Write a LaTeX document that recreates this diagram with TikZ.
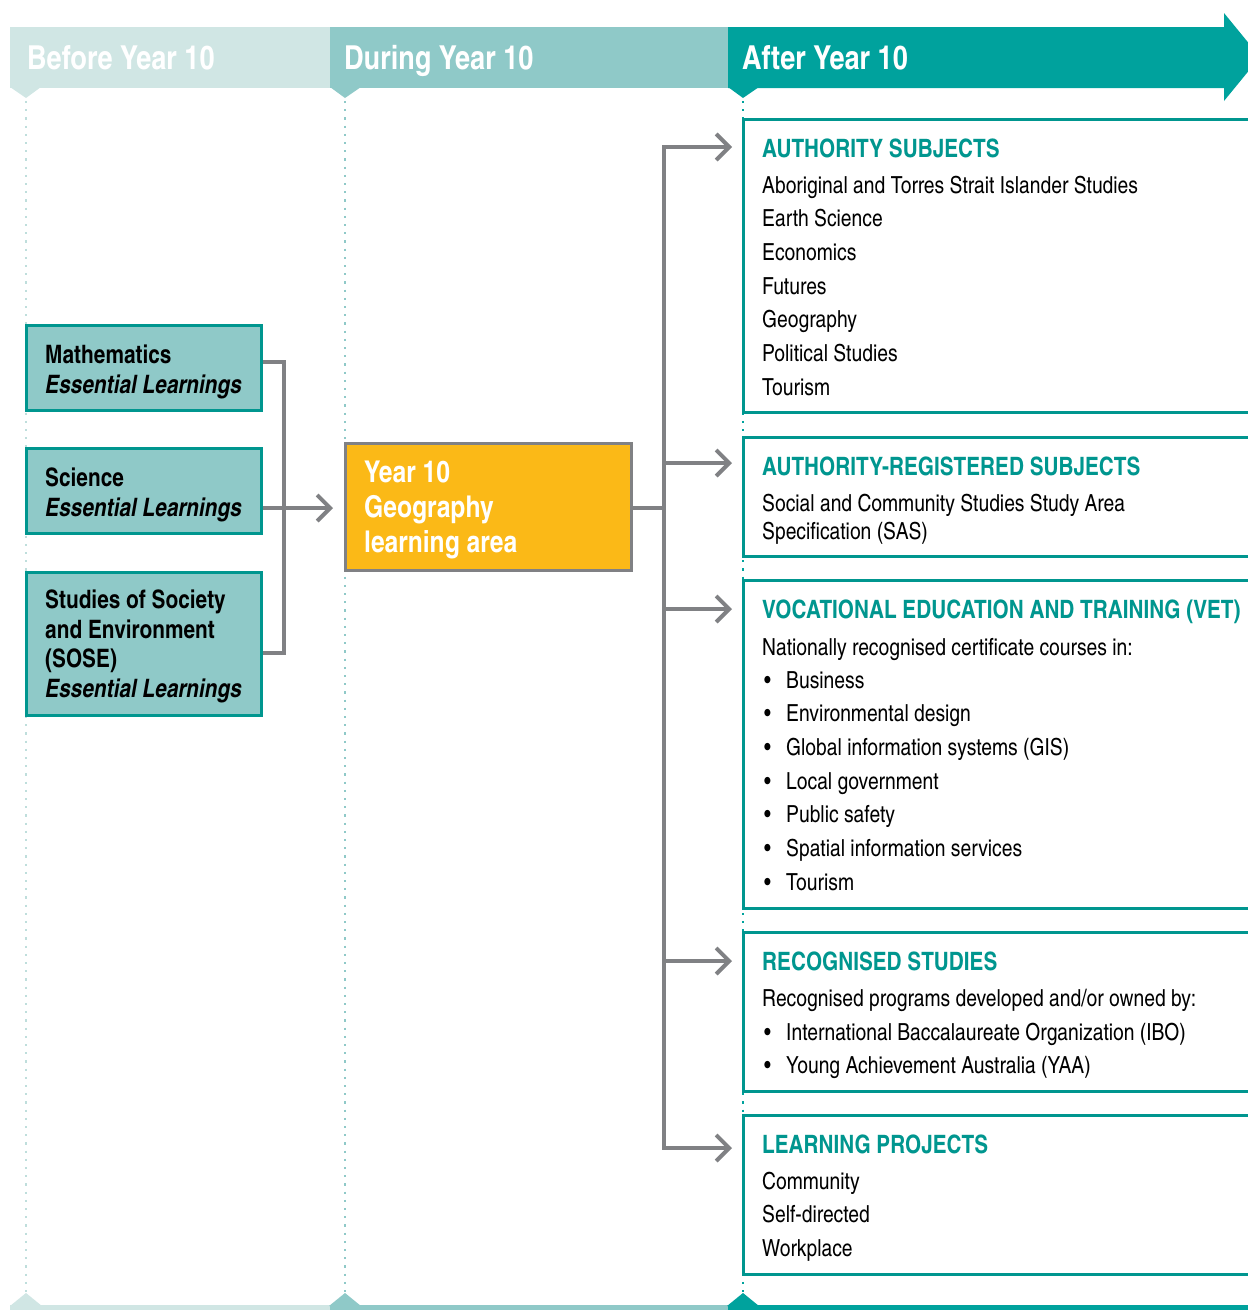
\documentclass[tikz,border=0pt]{standalone}
\usepackage{fontspec}
\setmainfont{texgyreheroscn}[Extension=.otf, UprightFont=*-regular, BoldFont=*-bold, ItalicFont=*-italic, BoldItalicFont=*-bolditalic]
\usetikzlibrary{arrows.meta,calc}
\definecolor{hlight}{HTML}{D0E6E4}
\definecolor{hmid}{HTML}{8FC9C8}
\definecolor{hteal}{HTML}{00A29D}
\definecolor{bteal}{HTML}{00968F}
\definecolor{cgray}{HTML}{808184}
\definecolor{gold}{HTML}{FBB917}
\definecolor{dlight}{HTML}{BFDEDC}
\begin{document}
\begin{tikzpicture}[x=1pt,y=-1pt,
  conn/.style={draw=cgray,line width=4pt},
  arr/.style={conn,-{Straight Barb[length=13pt,width=26pt]}},
  hdr/.style={anchor=base west,inner sep=0pt,text=white,font=\fontsize{33}{36}\selectfont\bfseries},
  leftbox/.style={draw=bteal,line width=3pt,fill=hmid,minimum width=235pt,anchor=north west,inner sep=0pt},
  ltxt/.style={anchor=base west,inner sep=0pt,font=\fontsize{25.4}{30}\selectfont\bfseries},
  ltxti/.style={ltxt,font=\fontsize{25.4}{30}\selectfont\bfseries\itshape},
  rbox/.style={fill=white,minimum width=520pt,anchor=north west,inner sep=0pt,outer sep=0pt},
  rtitle/.style={anchor=base west,inner sep=0pt,text=bteal,font=\fontsize{25.3}{30}\selectfont\bfseries},
  body/.style={anchor=base west,inner sep=0pt,font=\fontsize{23.5}{28}\selectfont},
  gtxt/.style={anchor=base west,inner sep=0pt,text=white,font=\fontsize{30}{34}\selectfont\bfseries},
  dots/.style={line width=2.2pt,dash pattern=on 2.2pt off 6pt}
]
\useasboundingbox (0,0) rectangle (1248,1310);

% ---- header band ----
\fill[hlight] (10,27) rectangle (330,88);
\fill[hlight] (10,87) -- (41,87) -- (26,98) -- cycle;
\fill[hmid] (330,27) rectangle (728,88);
\fill[hmid] (330,87) -- (361,87) -- (345,98) -- cycle;
\fill[hteal] (728,27) -- (1224,27) -- (1224,13) -- (1260,57) -- (1224,101) -- (1224,88) -- (728,88) -- cycle;
\fill[hteal] (728,87) -- (759,87) -- (743,98) -- cycle;
\node[hdr] (h1) at (27,69) {Before Year 10};
\node[hdr] (h2) at (344,69) {During Year 10};
\node[hdr] (h3) at (742,69) {After Year 10};

% ---- bottom band ----
\fill[hlight] (10,1305) rectangle (330,1312);
\fill[hlight] (10,1306) -- (26,1293) -- (42,1306) -- cycle;
\fill[hmid] (330,1305) rectangle (728,1312);
\fill[hmid] (329,1306) -- (345,1293) -- (361,1306) -- cycle;
\fill[hteal] (728,1305) rectangle (1250,1312);
\fill[hteal] (727,1306) -- (743,1293) -- (759,1306) -- cycle;

% ---- dotted guides ----
\draw[dots,draw=dlight] (26,101) -- (26,1292);
\draw[dots,draw=hmid] (345,101) -- (345,1292);
\draw[dots,draw=hteal] (743,101) -- (743,1292);

% ---- left boxes ----
\node[leftbox,minimum height=85pt] (math) at (25,324) {};
\node[leftbox,minimum height=85pt] (sci) at (25,447) {};
\node[leftbox,minimum height=143pt] (sose) at (25,571) {};
\node[ltxt] (m1) at (45,363) {Mathematics};
\node[ltxti] (m2) at (45,393) {Essential Learnings};
\node[ltxt] (s1) at (45,486) {Science};
\node[ltxti] (s2) at (45,516) {Essential Learnings};
\node[ltxt] (o1) at (45,608) {Studies of Society};
\node[ltxt] (o2) at (45,638) {and Environment};
\node[ltxt] (o3) at (45,667) {(SOSE)};
\node[ltxti] (o4) at (45,697) {Essential Learnings};

% ---- gold box ----
\node[draw=cgray,line width=3pt,fill=gold,minimum width=286pt,minimum height=127pt,anchor=north west,inner sep=0pt] (geo) at (344,442) {};
\node[gtxt] (g1) at (364,482) {Year 10};
\node[gtxt] (g2) at (364,517) {Geography};
\node[gtxt] (g3) at (364,552) {learning area};

% ---- left connectors ----
\coordinate (lj) at (284,508);
\coordinate (ain) at (333,508);
\draw[conn] ([yshift=6pt]math.east) -| (lj) |- ([yshift=-9pt]sose.east);
\draw[arr] ([yshift=-17pt]sci.east) -- (ain);

% ---- right boxes ----
\node[rbox,minimum height=293pt] (box1) at (743.5,119.5) {};
\node[rbox,minimum height=118.5pt] (box2) at (743.5,437.5) {};
\node[rbox,minimum height=327.5pt] (box3) at (743.5,580.5) {};
\node[rbox,minimum height=159pt] (box4) at (743.5,932) {};
\node[rbox,minimum height=158.5pt] (box5) at (743.5,1115.5) {};
\foreach \b in {box1,box2,box3,box4,box5}
  \draw[draw=bteal,line width=3pt] (\b.north east) -- (\b.north west) -- (\b.south west) -- (\b.south east);

% box 1
\node[rtitle] (t1) at (762,157) {AUTHORITY SUBJECTS};
\foreach \t [count=\i] in {Aboriginal and Torres Strait Islander Studies, Earth Science, Economics, Futures, Geography, Political Studies, Tourism}
  \node[body] (b1l\i) at ({762},{193+(\i-1)*33.67}) {\t};

% box 2
\node[rtitle] (t2) at (762,475) {AUTHORITY-REGISTERED SUBJECTS};
\node[body] (b2l1) at (762,511) {Social and Community Studies Study Area};
\node[body] (b2l2) at (762,539) {Specification (SAS)};

% box 3
\node[rtitle] (t3) at (762,618) {VOCATIONAL EDUCATION AND TRAINING (VET)};
\node[body] (b3l0) at (762,655) {Nationally recognised certificate courses in:};
\foreach \t [count=\i] in {Business, Environmental design, Global information systems (GIS), Local government, Public safety, Spatial information services, Tourism}{
  \node[body] (b3d\i) at ({764},{688+(\i-1)*33.67}) {•};
  \node[body] (b3l\i) at ({786},{688+(\i-1)*33.67}) {\t};
}

% box 4
\node[rtitle] (t4) at (762,970) {RECOGNISED STUDIES};
\node[body] (b4l0) at (762,1006) {Recognised programs developed and/or owned by:};
\node[body] (b4d1) at (764,1040) {•};
\node[body] (b4l1) at (786,1040) {International Baccalaureate Organization (IBO)};
\node[body] (b4d2) at (764,1073) {•};
\node[body] (b4l2) at (786,1073) {Young Achievement Australia (YAA)};

% box 5
\node[rtitle] (t5) at (762,1153) {LEARNING PROJECTS};
\node[body] (b5l1) at (762,1189) {Community};
\node[body] (b5l2) at (762,1222) {Self-directed};
\node[body] (b5l3) at (762,1256) {Workplace};

% ---- right connectors ----
\coordinate (tj) at (664,508);
\coordinate (a1) at (732,147);
\coordinate (a2) at (732,463);
\coordinate (a3) at (732,609);
\coordinate (a4) at (732,961);
\coordinate (a5) at (732,1148);
\draw[conn] (geo.east |- tj) -- (tj);
\draw[conn,{Straight Barb[length=13pt,width=26pt]}-{Straight Barb[length=13pt,width=26pt]}] (a1) -- (tj |- a1) -- (tj |- a5) -- (a5);
\draw[arr] (tj |- a2) -- (a2);
\draw[arr] (tj |- a3) -- (a3);
\draw[arr] (tj |- a4) -- (a4);
\end{tikzpicture}
\end{document}
